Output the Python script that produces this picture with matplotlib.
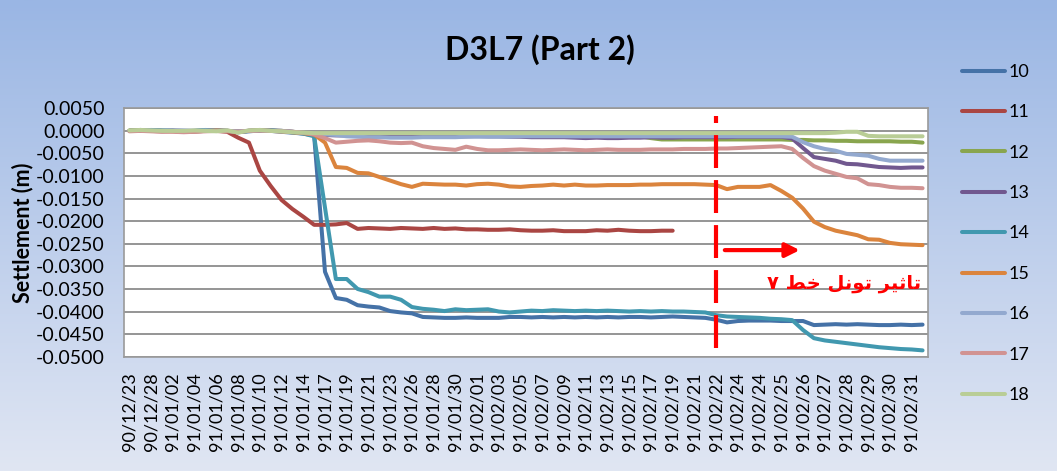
import numpy as np, matplotlib
matplotlib.use("Agg")
import matplotlib.pyplot as plt
from matplotlib.colors import LinearSegmentedColormap

plt.rcParams.update({"font.family": ["Lato", "DejaVu Sans"]})

# ---------- data ----------
tick_labels = ["90/12/23", "90/12/28", "91/01/02", "91/01/04", "91/01/06", "91/01/08", "91/01/10",
               "91/01/12", "91/01/14", "91/01/17", "91/01/19", "91/01/21", "91/01/23", "91/01/26",
               "91/01/28", "91/01/30", "91/02/01", "91/02/03", "91/02/05", "91/02/07", "91/02/09",
               "91/02/11", "91/02/13", "91/02/15", "91/02/17", "91/02/19", "91/02/21", "91/02/22",
               "91/02/24", "91/02/24", "91/02/25", "91/02/26", "91/02/27", "91/02/28", "91/02/29",
               "91/02/30", "91/02/31"]
series_names = ["10", "11", "12", "13", "14", "15", "16", "17", "18"]

s10 = [0.0000, 0.0002, 0.0001, 0.0000, 0.0000, -0.0002, -0.0001, 0.0000, 0.0001, 0.0000,
       -0.0003, -0.0001, 0.0001, 0.0000, -0.0002, -0.0004, -0.0006, -0.0010, -0.0312, -0.0370,
       -0.0374, -0.0386, -0.0389, -0.0391, -0.0399, -0.0402, -0.0404, -0.0412, -0.0413, -0.0414,
       -0.0414, -0.0413, -0.0414, -0.0414, -0.0414, -0.0412, -0.0412, -0.0413, -0.0412, -0.0413,
       -0.0412, -0.0413, -0.0412, -0.0413, -0.0412, -0.0413, -0.0412, -0.0412, -0.0413, -0.0412,
       -0.0411, -0.0412, -0.0413, -0.0414, -0.0418, -0.0424, -0.0421, -0.0420, -0.0420, -0.0420,
       -0.0421, -0.0421, -0.0421, -0.0430, -0.0429, -0.0428, -0.0429, -0.0428, -0.0429, -0.0430,
       -0.0430, -0.0429, -0.0430, -0.0429]
s11 = [0.0000, 0.0001, 0.0000, -0.0001, 0.0000, -0.0002, -0.0001, 0.0000, 0.0000, -0.0002,
       -0.0015, -0.0026, -0.0088, -0.0122, -0.0153, -0.0173, -0.0190, -0.0208, -0.0208, -0.0207,
       -0.0204, -0.0217, -0.0215, -0.0216, -0.0217, -0.0215, -0.0216, -0.0217, -0.0215, -0.0217,
       -0.0216, -0.0218, -0.0218, -0.0219, -0.0219, -0.0218, -0.0220, -0.0221, -0.0221, -0.0220,
       -0.0222, -0.0222, -0.0222, -0.0220, -0.0221, -0.0219, -0.0221, -0.0222, -0.0222, -0.0221,
       -0.0221] + [np.nan] * 23
s12 = [0.0001, 0.0002, 0.0001, 0.0000, 0.0000, -0.0001, 0.0000, 0.0001, 0.0000, 0.0000,
       -0.0002, 0.0000, 0.0002, 0.0001, 0.0000, -0.0002, -0.0004, -0.0006, -0.0007, -0.0008,
       -0.0008, -0.0009, -0.0009, -0.0010, -0.0010, -0.0010, -0.0010, -0.0010, -0.0010, -0.0010,
       -0.0010, -0.0009, -0.0010, -0.0010, -0.0011, -0.0010, -0.0010, -0.0010, -0.0011, -0.0010,
       -0.0010, -0.0010, -0.0010, -0.0010, -0.0010, -0.0010, -0.0011, -0.0012, -0.0016, -0.0019,
       -0.0019, -0.0019, -0.0019, -0.0019, -0.0019, -0.0019, -0.0019, -0.0019, -0.0019, -0.0019,
       -0.0019, -0.0020, -0.0020, -0.0021, -0.0021, -0.0022, -0.0022, -0.0023, -0.0023, -0.0023,
       -0.0023, -0.0024, -0.0024, -0.0026]
s13 = [0.0000, 0.0001, 0.0001, 0.0000, 0.0001, 0.0000, 0.0000, 0.0001, 0.0000, 0.0000,
       -0.0001, 0.0000, 0.0001, 0.0001, 0.0000, -0.0002, -0.0005, -0.0008, -0.0009, -0.0010,
       -0.0010, -0.0010, -0.0011, -0.0011, -0.0011, -0.0011, -0.0012, -0.0012, -0.0012, -0.0012,
       -0.0012, -0.0012, -0.0011, -0.0012, -0.0012, -0.0013, -0.0013, -0.0014, -0.0014, -0.0014,
       -0.0014, -0.0015, -0.0016, -0.0015, -0.0016, -0.0016, -0.0015, -0.0015, -0.0014, -0.0015,
       -0.0015, -0.0014, -0.0014, -0.0014, -0.0014, -0.0014, -0.0013, -0.0013, -0.0013, -0.0013,
       -0.0013, -0.0017, -0.0038, -0.0058, -0.0062, -0.0066, -0.0073, -0.0074, -0.0077, -0.0080,
       -0.0081, -0.0082, -0.0081, -0.0081]
s14 = [0.0000, 0.0001, 0.0002, 0.0001, 0.0000, -0.0001, 0.0000, 0.0002, 0.0001, 0.0000,
       -0.0002, 0.0000, 0.0001, 0.0001, -0.0001, -0.0003, -0.0006, -0.0012, -0.0170, -0.0328,
       -0.0328, -0.0350, -0.0357, -0.0367, -0.0367, -0.0374, -0.0390, -0.0394, -0.0396, -0.0399,
       -0.0395, -0.0397, -0.0396, -0.0395, -0.0400, -0.0402, -0.0400, -0.0398, -0.0399, -0.0397,
       -0.0398, -0.0399, -0.0398, -0.0399, -0.0398, -0.0399, -0.0400, -0.0399, -0.0400, -0.0399,
       -0.0400, -0.0400, -0.0401, -0.0402, -0.0408, -0.0411, -0.0412, -0.0413, -0.0414, -0.0416,
       -0.0417, -0.0419, -0.0441, -0.0459, -0.0464, -0.0467, -0.0470, -0.0473, -0.0476, -0.0479,
       -0.0481, -0.0483, -0.0484, -0.0486]
s15 = [0.0000, 0.0001, 0.0000, 0.0000, -0.0001, -0.0002, -0.0001, 0.0000, 0.0001, 0.0000,
       -0.0001, 0.0000, 0.0001, 0.0000, -0.0001, -0.0003, -0.0005, -0.0008, -0.0026, -0.0080,
       -0.0082, -0.0093, -0.0094, -0.0102, -0.0110, -0.0118, -0.0124, -0.0117, -0.0118, -0.0119,
       -0.0119, -0.0121, -0.0118, -0.0117, -0.0119, -0.0123, -0.0124, -0.0122, -0.0121, -0.0119,
       -0.0121, -0.0119, -0.0121, -0.0121, -0.0120, -0.0120, -0.0120, -0.0119, -0.0119, -0.0118,
       -0.0118, -0.0118, -0.0118, -0.0119, -0.0120, -0.0129, -0.0124, -0.0124, -0.0124, -0.0120,
       -0.0133, -0.0148, -0.0172, -0.0201, -0.0213, -0.0221, -0.0226, -0.0231, -0.0240, -0.0241,
       -0.0248, -0.0251, -0.0252, -0.0253]
s16 = [0.0000, 0.0001, 0.0001, 0.0000, 0.0001, 0.0001, 0.0000, 0.0001, 0.0000, 0.0000,
       -0.0001, 0.0000, 0.0001, 0.0000, 0.0000, -0.0002, -0.0004, -0.0006, -0.0008, -0.0009,
       -0.0012, -0.0013, -0.0014, -0.0014, -0.0015, -0.0015, -0.0015, -0.0014, -0.0014, -0.0014,
       -0.0014, -0.0013, -0.0013, -0.0013, -0.0013, -0.0013, -0.0012, -0.0012, -0.0012, -0.0012,
       -0.0012, -0.0012, -0.0012, -0.0012, -0.0012, -0.0012, -0.0012, -0.0012, -0.0012, -0.0012,
       -0.0012, -0.0012, -0.0012, -0.0012, -0.0012, -0.0012, -0.0012, -0.0012, -0.0012, -0.0012,
       -0.0012, -0.0013, -0.0025, -0.0034, -0.0040, -0.0044, -0.0051, -0.0053, -0.0055, -0.0062,
       -0.0066, -0.0066, -0.0066, -0.0066]
s17 = [-0.0001, 0.0000, -0.0001, -0.0002, -0.0002, -0.0003, -0.0002, -0.0001, 0.0000, -0.0001,
       -0.0002, 0.0000, 0.0001, 0.0000, -0.0001, -0.0002, -0.0004, -0.0008, -0.0016, -0.0026,
       -0.0024, -0.0022, -0.0021, -0.0023, -0.0026, -0.0027, -0.0026, -0.0034, -0.0038, -0.0040,
       -0.0042, -0.0035, -0.0040, -0.0043, -0.0043, -0.0042, -0.0041, -0.0042, -0.0043, -0.0042,
       -0.0041, -0.0042, -0.0043, -0.0042, -0.0041, -0.0042, -0.0042, -0.0042, -0.0041, -0.0041,
       -0.0041, -0.0040, -0.0040, -0.0040, -0.0039, -0.0039, -0.0038, -0.0037, -0.0036, -0.0035,
       -0.0034, -0.0040, -0.0060, -0.0078, -0.0088, -0.0095, -0.0102, -0.0105, -0.0118, -0.0120,
       -0.0124, -0.0126, -0.0126, -0.0127]
s18 = [0.0001, 0.0002, 0.0001, 0.0000, 0.0000, 0.0000, 0.0001, 0.0000, -0.0001, 0.0001,
       -0.0004, 0.0001, 0.0002, 0.0000, -0.0001, -0.0003, -0.0004, -0.0005, -0.0005, -0.0005,
       -0.0005, -0.0005, -0.0005, -0.0005, -0.0005, -0.0005, -0.0005, -0.0005, -0.0005, -0.0005,
       -0.0005, -0.0005, -0.0005, -0.0005, -0.0005, -0.0005, -0.0005, -0.0005, -0.0005, -0.0005,
       -0.0005, -0.0005, -0.0005, -0.0005, -0.0005, -0.0005, -0.0005, -0.0005, -0.0005, -0.0005,
       -0.0005, -0.0005, -0.0005, -0.0005, -0.0005, -0.0005, -0.0005, -0.0005, -0.0005, -0.0005,
       -0.0005, -0.0005, -0.0005, -0.0005, -0.0005, -0.0004, -0.0002, -0.0002, -0.0011, -0.0012,
       -0.0012, -0.0012, -0.0012, -0.0012]
series = [s10, s11, s12, s13, s14, s15, s16, s17, s18]
colors = ["#4572A7", "#AA4643", "#89A54E", "#71588F", "#4198AF", "#DB843D", "#93A9CF", "#D19392", "#B9CD96"]

event_idx = 54  # 91/02/22 -> start of line 7 tunnel influence

# ---------- figure ----------
fig = plt.figure(figsize=(10.57, 4.71), dpi=100)
bg = fig.add_axes([0, 0, 1, 1], zorder=-1)
grad = np.linspace(0, 1, 256).reshape(-1, 1)
bg.imshow(grad, aspect="auto", extent=[0, 1, 0, 1], origin="upper",
          cmap=LinearSegmentedColormap.from_list("bg", ["#9AB6E4", "#E0E6F3"]))
bg.axis("off")

ax = fig.add_axes([124 / 1057, 1 - 356.7 / 471, 804 / 1057, 248.4 / 471])
ax.set_facecolor("white")
x = np.arange(len(s10))
for name, vals, col in zip(series_names, series, colors):
    ax.plot(x, vals, color=col, lw=2.9, label=name, solid_capstyle="round", solid_joinstyle="round")

ax.set_xlim(-0.5, len(x) - 0.5)
ax.set_ylim(-0.05, 0.005)
ax.set_yticks(np.arange(-0.05, 0.0051, 0.005))
ax.yaxis.set_major_formatter(matplotlib.ticker.FuncFormatter(lambda v, p: f"{v + 0.0:.4f}".replace("-0.0000", "0.0000")))
ax.set_xticks(x[::2])
ax.set_xticklabels(tick_labels, rotation=90, fontsize=13)
ax.tick_params(axis="y", labelsize=14, length=0, pad=14)
ax.tick_params(axis="x", length=0, pad=11)
ax.grid(axis="y", color="#8C8C8C", lw=1.3)
ax.set_axisbelow(True)
for s in ax.spines.values():
    s.set_color("#9A9A9A"); s.set_linewidth(1.2)
ax.set_ylabel("Settlement (m)", fontsize=15.5, fontweight="bold")
ax.yaxis.set_label_coords(-0.113, 0.5)

# tunnel influence marker, arrow and note
ax.plot([event_idx, event_idx], [-0.0481, 0.0034], color="red", lw=3, dashes=(7.9, 2.9), zorder=5)
ax.annotate("", xy=(event_idx + 7.7, -0.0264), xytext=(event_idx + 0.8, -0.0264),
            arrowprops=dict(arrowstyle="-|>", color="red", lw=3, mutation_scale=21, shrinkA=0, shrinkB=0))
note = "\u06F7 \uFEC2\uFEA7 \uFEDE\uFEE7\uFEEE\uFE97 \uFEAE\uFEF4\uFE9B\uFE8E\uFE97"  # تاثیر تونل خط ۷ (pre-shaped)
ax.text(event_idx + 11.8, -0.0337, note, color="red", fontsize=14, fontweight="bold",
        family="DejaVu Sans", ha="center", va="center")

fig.suptitle("D3L7 (Part 2)", x=540 / 1057, y=1 - 50 / 471, va="center", fontsize=23, fontweight="bold")

ax.legend(loc="upper left", bbox_to_anchor=(962 / 1057, 1 - 64 / 471), bbox_transform=fig.transFigure,
          frameon=False, fontsize=13, handlelength=2.4, handletextpad=0.2, labelspacing=1.35,
          borderpad=0, borderaxespad=0)

fig.savefig("out.png", dpi=100)
